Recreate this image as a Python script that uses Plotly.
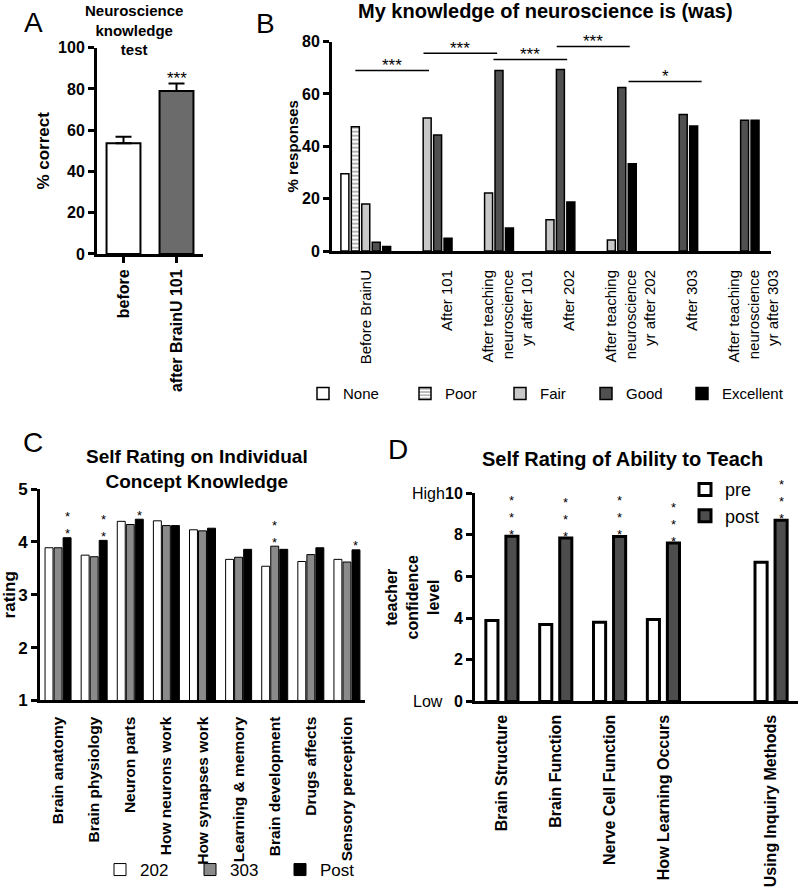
import plotly.graph_objects as go

W, H = 800, 888
FONT = "Liberation Sans, Arial, sans-serif"


def px(x):
    return x / W


def py(y):
    return 1 - y / H


# ---------------- data ----------------
# Panel A
a_categories = ["before", "after BrainU 101"]
a_values = [53.6, 79.0]
a_errors = [3.2, 3.6]

# Panel B
b_categories = [
    "Before BrainU",
    "After 101",
    "After teaching<br>neuroscience<br>yr after 101",
    "After 202",
    "After teaching<br>neuroscience<br>yr after 202",
    "After 303",
    "After teaching<br>neuroscience<br>yr after 303",
]
b_none = [29.5, 0, 0, 0, 0, 0, 0]
b_poor = [47.5, 0, 0, 0, 0, 0, 0]
b_fair = [18.0, 50.8, 22.2, 11.9, 4.2, 0, 0]
b_good = [3.3, 44.3, 69.0, 69.4, 62.5, 52.2, 50.0]
b_excellent = [1.7, 4.9, 8.8, 18.7, 33.3, 47.8, 50.0]
b_series_names = ["None", "Poor", "Fair", "Good", "Excellent"]

# significance brackets in panel B
b_sig_from = [-0.17, 0.94, 2.08, 3.11, 4.28]
b_sig_to = [1.03, 2.14, 3.28, 4.30, 5.47]
b_sig_level = [69.0, 75.6, 73.2, 78.2, 64.8]
b_sig_label = ["***", "***", "***", "***", "*"]

# Panel C
c_categories = [
    "Brain anatomy",
    "Brain physiology",
    "Neuron parts",
    "How neurons work",
    "How synapses work",
    "Learning & memory",
    "Brain development",
    "Drugs affects",
    "Sensory perception",
]
c_202 = [3.89, 3.75, 4.39, 4.40, 4.23, 3.67, 3.54, 3.63, 3.67]
c_303 = [3.89, 3.72, 4.33, 4.31, 4.21, 3.71, 3.92, 3.76, 3.62]
c_post = [4.08, 4.03, 4.43, 4.31, 4.26, 3.86, 3.86, 3.89, 3.85]
c_series_names = ["202", "303", "Post"]
# (category index, series index, number of stars)
c_stars = [(0, 2, 2), (1, 2, 2), (2, 2, 1), (6, 1, 2), (8, 2, 1)]

# Panel D
d_categories = [
    "Brain Structure",
    "Brain Function",
    "Nerve Cell Function",
    "How Learning Occurs",
    "Using Inquiry Methods",
]
d_groups = ["content", "content", "content", "content", "pedagogy"]
d_pre = [3.88, 3.69, 3.80, 3.93, 6.68]
d_post = [7.93, 7.84, 7.91, 7.60, 8.70]
d_series_names = ["pre", "post"]
d_stars = [3, 3, 3, 3, 3]

# slot positions for D: one empty slot between groups
d_pos = []
gap = 0
for i, g in enumerate(d_groups):
    if i > 0 and g != d_groups[i - 1]:
        gap += 1
    d_pos.append(i + gap)


def nz(vals):
    """zero-height bars are not drawn"""
    return [v if v else None for v in vals]


# ---------------- figure ----------------
fig = go.Figure()

# Panel A
fig.add_trace(go.Bar(
    x=a_categories, y=a_values, width=0.64,
    marker=dict(color=["white", "#6b6b6b"], line=dict(color="black", width=2)),
    error_y=dict(type="data", array=a_errors, arrayminus=[0] * len(a_errors),
                 symmetric=False, color="black", thickness=2, width=8),
    xaxis="x", yaxis="y", showlegend=False,
))

# Panel B (each key entry has its own legend box so it can sit where the original puts it)
b_vals = [b_none, b_poor, b_fair, b_good, b_excellent]
b_colors = ["white", "white", "#c8c8c8", "#505050", "black"]
b_legend_ids = ["legend", "legend2", "legend3", "legend4", "legend5"]
b_step, b_width = 0.17, 0.13
for i, (name, vals, col) in enumerate(zip(b_series_names, b_vals, b_colors)):
    marker = dict(color=col, line=dict(color="black", width=1.5))
    if name == "Poor":
        marker["pattern"] = dict(shape="-", fgcolor="black", bgcolor="white",
                                 size=4, solidity=0.3)
    fig.add_trace(go.Bar(
        x=b_categories, y=nz(vals), name=name, marker=marker,
        width=b_width, offset=(i - 2) * b_step - b_width / 2,
        xaxis="x2", yaxis="y2", legend=b_legend_ids[i],
    ))

# Panel C
c_vals = [c_202, c_303, c_post]
c_colors = ["white", "#8a8a8a", "black"]
c_step, c_width = 0.25, 0.22
for i, (name, vals, col) in enumerate(zip(c_series_names, c_vals, c_colors)):
    fig.add_trace(go.Bar(
        x=c_categories, y=vals, name=name,
        marker=dict(color=col, line=dict(color="black", width=1)),
        width=c_width, offset=(i - 1) * c_step - c_width / 2,
        xaxis="x3", yaxis="y3", legend="legend6",
    ))

# Panel D
d_vals = [d_pre, d_post]
d_colors = ["white", "#4d4d4d"]
d_step, d_width = 0.372, 0.225
for i, (name, vals, col) in enumerate(zip(d_series_names, d_vals, d_colors)):
    fig.add_trace(go.Bar(
        x=d_pos, y=vals, name=name,
        marker=dict(color=col, line=dict(color="black", width=3)),
        width=d_width, offset=(i - 0.5) * d_step - d_width / 2,
        xaxis="x4", yaxis="y4", legend="legend7",
    ))

# ---------------- axes ----------------
tick_bold = dict(family=FONT, size=16, color="black", weight="bold")
common = dict(showline=True, linewidth=3, linecolor="black", showgrid=False,
              zeroline=False, automargin=False, fixedrange=True)

# B tick labels: the original sets all but the first label one line-step to the right
b_ticktext = [t if i == 0 else "<br><br>" + t for i, t in enumerate(b_categories)]

fig.update_layout(
    xaxis=dict(domain=[px(97), px(203)], anchor="y", type="category",
               range=[-0.5, 1.5], ticks="outside", ticklen=6, tickwidth=3,
               tickcolor="black", tickangle=-90, tickfont=tick_bold, **common),
    yaxis=dict(domain=[py(256), py(48)], anchor="x", range=[0, 100], dtick=20,
               ticks="outside", ticklen=6, tickwidth=3, tickcolor="black",
               tickfont=tick_bold,
               title=dict(text="% correct", standoff=5,
                          font=dict(family=FONT, size=17, color="black", weight="bold")),
               **common),
    xaxis2=dict(domain=[px(332), px(771)], anchor="y2", type="category",
                range=[-0.55, 6.6], ticks="", tickangle=-90, ticklabelstandoff=10,
                tickmode="array", tickvals=b_categories, ticktext=b_ticktext,
                tickfont=dict(family=FONT, size=15, color="black"), **common),
    yaxis2=dict(domain=[py(253), py(42)], anchor="x2", range=[0, 80], dtick=20,
                ticks="outside", ticklen=6, tickwidth=3, tickcolor="black",
                tickfont=tick_bold,
                title=dict(text="% responses", standoff=0,
                           font=dict(family=FONT, size=15, color="black", weight="bold")),
                **common),
    xaxis3=dict(domain=[px(40), px(365)], anchor="y3", type="category",
                range=[-0.5, 8.5], ticks="", tickangle=-90, ticklabelstandoff=7,
                tickfont=dict(family=FONT, size=15.5, color="black", weight="bold"),
                **common),
    yaxis3=dict(domain=[py(706), py(493)], anchor="x3", range=[1, 5], dtick=1,
                ticks="outside", ticklen=6, tickwidth=3, tickcolor="black",
                tickfont=dict(family=FONT, size=17, color="black", weight="bold"),
                title=dict(text="rating", standoff=12,
                           font=dict(family=FONT, size=17, color="black", weight="bold")),
                **common),
    xaxis4=dict(domain=[px(475), px(798)], anchor="y4", type="linear",
                range=[-0.5, 5.5], tickmode="array", tickvals=d_pos, ticktext=d_categories,
                ticks="", tickangle=-90, ticklabelstandoff=4,
                tickfont=tick_bold, **common),
    yaxis4=dict(domain=[py(707), py(497)], anchor="x4", range=[0, 10], dtick=2,
                ticks="outside", ticklen=6, tickwidth=3, tickcolor="black",
                tickfont=tick_bold,
                title=dict(text="teacher<br>confidence<br>level", standoff=2,
                           font=dict(family=FONT, size=16, color="black", weight="bold")),
                **common),
)

# ---------------- legends ----------------
legend_base = dict(bgcolor="rgba(0,0,0,0)", traceorder="normal", xanchor="left")
b_legend_text_x = [343, 445, 540, 626, 722]  # where each key label starts
for lid, tx in zip(b_legend_ids, b_legend_text_x):
    fig.update_layout({lid: dict(orientation="h", x=px(tx - 40), y=py(397),
                                 yanchor="middle",
                                 font=dict(family=FONT, size=15, color="black"),
                                 **legend_base)})
fig.update_layout(
    legend6=dict(orientation="h", x=px(100), y=py(877), yanchor="middle",
                 font=dict(family=FONT, size=17, color="black"),
                 entrywidth=45, **legend_base),
    legend7=dict(orientation="v", x=px(685), y=py(475), yanchor="top",
                 font=dict(family=FONT, size=18, color="black"),
                 tracegroupgap=0, **legend_base),
)

# ---------------- annotations ----------------
ann = []
shapes = []


def text_ann(x, y, text, size, bold=True, **kw):
    d = dict(x=px(x), y=py(y), xref="paper", yref="paper", text=text,
             showarrow=False, xanchor="center", yanchor="middle",
             font=dict(family=FONT, size=size, color="black",
                       weight="bold" if bold else "normal"))
    d.update(kw)
    ann.append(d)


# panel letters
text_ann(33, 23, "A", 28, bold=False)
text_ann(265, 24, "B", 28, bold=False)
text_ann(33, 446, "C", 28, bold=False)
text_ann(398, 453, "D", 28, bold=False)

# titles
text_ann(134, 0, "Neuroscience<br>knowledge<br>test", 15, yanchor="top")
text_ann(545, 11, "My knowledge of neuroscience is (was)", 20)
text_ann(197, 473, "Self Rating on Individual<br>Concept Knowledge", 19)
text_ann(622, 463, "Self Rating of Ability to Teach", 20)

GLYPH = 0.233  # asterisk glyph centre sits this many em above the text box centre

# Panel A stars
ann.append(dict(x=a_categories[1], y=a_values[1] + a_errors[1], xref="x", yref="y",
                text="***", showarrow=False, yanchor="middle", yshift=9 - GLYPH * 17,
                font=dict(family=FONT, size=17, color="black")))

# Panel B significance brackets
for x0, x1, lev, lab in zip(b_sig_from, b_sig_to, b_sig_level, b_sig_label):
    shapes.append(dict(type="line", xref="x2", yref="y2", x0=x0, x1=x1, y0=lev, y1=lev,
                       line=dict(color="black", width=1.5)))
    ann.append(dict(x=(x0 + x1) / 2, y=lev, xref="x2", yref="y2", text=lab,
                    showarrow=False, yanchor="middle", yshift=9 - GLYPH * 17,
                    font=dict(family=FONT, size=17, color="black")))


def star_stack(n, size, above):
    """yshift for a vertical stack of n asterisks whose lowest one is `above` px over the bar."""
    spacing = 1.3 * size
    return above + (n - 1) * spacing / 2 - GLYPH * size


# Panel C stars
STAR_C = 13
cat_px_c = (365 - 40) / 9
for ci, si, n in c_stars:
    ann.append(dict(x=c_categories[ci], y=c_vals[si][ci], xref="x3", yref="y3",
                    text="<br>".join(["*"] * n), showarrow=False, yanchor="middle",
                    xshift=(si - 1) * c_step * cat_px_c,
                    yshift=star_stack(n, STAR_C, 7),
                    font=dict(family=FONT, size=STAR_C, color="black")))

# Panel D stars
STAR_D = 13
cat_px_d = (798 - 475) / 6
for ci, n in enumerate(d_stars):
    ann.append(dict(x=d_pos[ci], y=d_post[ci], xref="x4", yref="y4",
                    text="<br>".join(["*"] * n), showarrow=False, yanchor="middle",
                    xshift=0.5 * d_step * cat_px_d,
                    yshift=star_stack(n, STAR_D, 5),
                    font=dict(family=FONT, size=STAR_D, color="black")))

# High / Low labels on panel D
for val, lab in [(10, "High"), (0, "Low")]:
    ann.append(dict(x=px(428), y=val, xref="paper", yref="y4", text=lab,
                    showarrow=False, xanchor="center", yanchor="middle",
                    font=dict(family=FONT, size=16, color="black")))

fig.update_layout(
    annotations=ann, shapes=shapes,
    width=W, height=H, margin=dict(l=0, r=0, t=0, b=0),
    paper_bgcolor="white", plot_bgcolor="white",
    font=dict(family=FONT, color="black"),
    barmode="group",
)

fig.write_html("out.html", config={"displayModeBar": False},
               post_script="document.body.style.margin='0';document.body.style.overflow='hidden';")
